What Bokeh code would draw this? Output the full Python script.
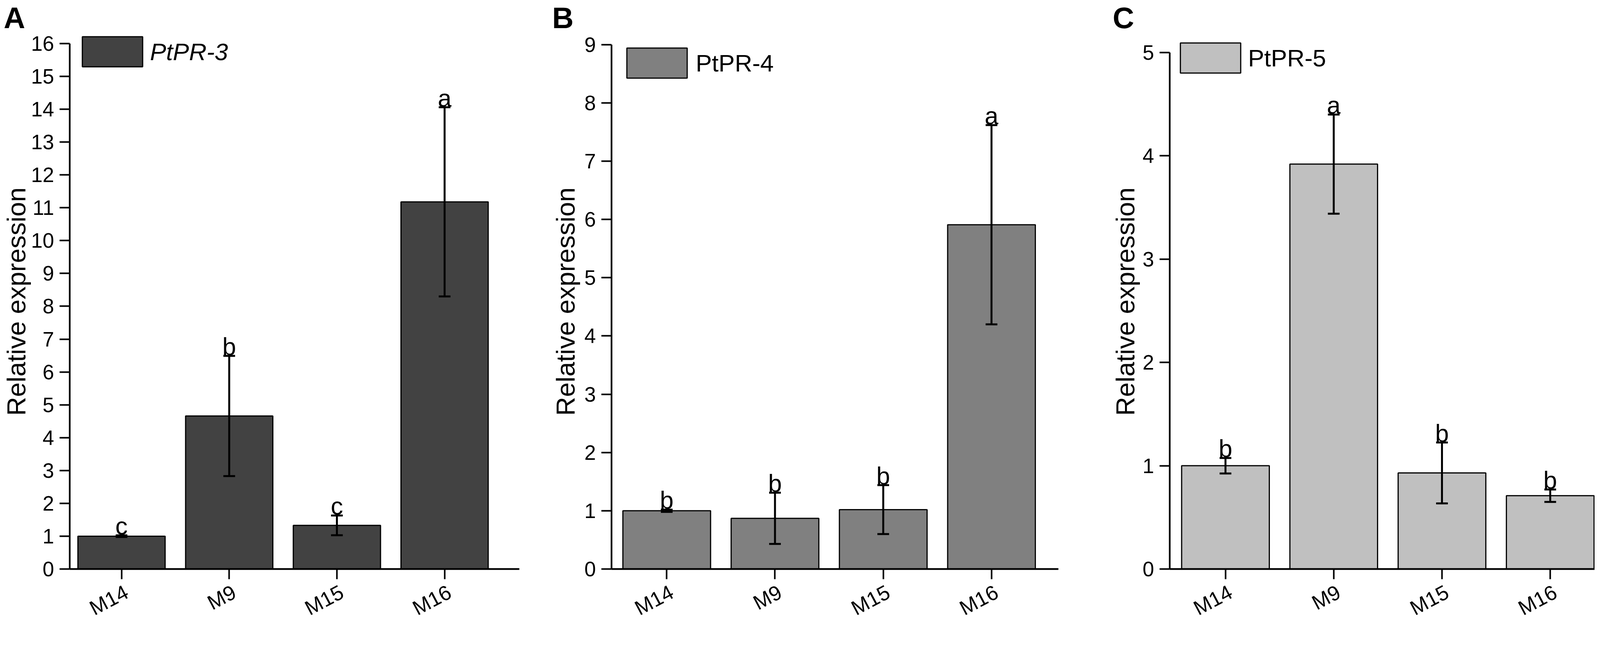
import math
from bokeh.plotting import figure
from bokeh.models import (ColumnDataSource, Whisker, TeeHead, Range1d,
                          FixedTicker, Title, LinearAxis, GlobalInlineStyleSheet)
from bokeh.layouts import row
from bokeh.embed import file_html
from bokeh.resources import INLINE
from bokeh.core.properties import value

# ---------------- data ----------------
categories = ["M14", "M9", "M15", "M16"]
panel_letters = ["A", "B", "C"]
gene_names = ["PtPR-3", "PtPR-4", "PtPR-5"]

pr3_mean = [1.00, 4.66, 1.33, 11.18]
pr3_err = [0.025, 1.83, 0.30, 2.88]
pr3_sig = ["c", "b", "c", "a"]

pr4_mean = [1.00, 0.87, 1.02, 5.91]
pr4_err = [0.02, 0.44, 0.42, 1.71]
pr4_sig = ["b", "b", "b", "a"]

pr5_mean = [1.00, 3.92, 0.93, 0.71]
pr5_err = [0.075, 0.48, 0.295, 0.06]
pr5_sig = ["b", "a", "b", "b"]

y_tick_max = [16, 9, 5]

# ---------------- style ----------------
FONT = "Liberation Sans"
H = 1616
LABEL_SHIFT = 0.047   # rotated category labels sit slightly right of their tick
LABEL_ANGLE = math.radians(28)


def make_panel(letter, gene, means, errs, sigs, color, ymax, yend,
               xstart, xend, width, bl, br, title_offset, als,
               legend_loc, legend_standoff, italic):
    xs = [i + 1 for i in range(len(categories))]
    src = ColumnDataSource(dict(
        x=xs, top=means,
        upper=[m + e for m, e in zip(means, errs)],
        lower=[m - e for m, e in zip(means, errs)],
        sig=sigs,
    ))
    p = figure(width=width, height=H,
               x_range=Range1d(xstart, xend), y_range=Range1d(0, yend),
               output_backend="svg", toolbar_location=None,
               min_border_left=bl, min_border_right=br,
               min_border_top=87, min_border_bottom=H - 87 - 1369,
               background_fill_color="white", border_fill_color="white")
    p.title = Title(text=letter, align="left", offset=title_offset,
                    text_font=FONT, text_font_size="76px",
                    text_font_style="bold", text_color="black", standoff=0)

    p.vbar(x="x", top="top", bottom=0, width=0.81, source=src,
           fill_color=color, line_color="black", line_width=3,
           legend_label=gene)

    head_kw = dict(size=30, line_width=5, line_color="black")
    p.add_layout(Whisker(source=src, base="x", upper="upper", lower="lower",
                         line_width=5, line_color="black",
                         upper_head=TeeHead(**head_kw),
                         lower_head=TeeHead(**head_kw),
                         level="annotation"))

    p.text(x="x", y="upper", text="sig", source=src,
           text_align="center", text_baseline="bottom", y_offset=11,
           text_font=value(FONT), text_font_size="63px",
           text_color="black", level="annotation")

    p.grid.visible = False
    p.outline_line_color = None

    for ax in (p.xaxis[0], p.yaxis[0]):
        ax.axis_line_width = 4.3
        ax.axis_line_color = "black"
        ax.major_tick_line_width = 4
        ax.major_tick_line_color = "black"
        ax.major_tick_out = 26
        ax.major_tick_in = 0
        ax.minor_tick_line_color = None
        ax.major_label_text_color = "black"
        ax.major_label_text_font = FONT

    # x axis: line and ticks at the category centres
    xa = p.xaxis[0]
    xa.ticker = FixedTicker(ticks=xs)
    xa.major_label_overrides = {x: "" for x in xs}
    xa.major_label_text_font_size = "1px"
    xa.major_label_standoff = 0

    # second bottom axis carrying the rotated category names
    label_pos = [x + LABEL_SHIFT for x in xs]
    la = LinearAxis(ticker=FixedTicker(ticks=label_pos),
                    major_label_overrides={x: c for x, c in zip(label_pos, categories)},
                    major_label_orientation=LABEL_ANGLE,
                    major_label_text_font=FONT,
                    major_label_text_font_size="53px",
                    major_label_text_color="black",
                    major_label_standoff=29,
                    axis_line_color=None,
                    major_tick_line_color=None,
                    major_tick_out=0, major_tick_in=0,
                    minor_tick_line_color=None)
    p.add_layout(la, "below")

    ya = p.yaxis[0]
    ya.ticker = FixedTicker(ticks=list(range(ymax + 1)))
    ya.bounds = (0, ymax)
    ya.major_label_text_font_size = "53px"
    ya.major_label_standoff = 14
    ya.axis_label = "Relative expression"
    ya.axis_label_text_font = FONT
    ya.axis_label_text_font_size = "67px"
    ya.axis_label_text_font_style = "normal"
    ya.axis_label_text_color = "black"
    ya.axis_label_standoff = als

    leg = p.legend[0]
    leg.location = legend_loc
    leg.glyph_width = 193
    leg.glyph_height = 96
    leg.padding = 0
    leg.margin = 0
    leg.border_line_color = None
    leg.background_fill_alpha = 0
    leg.label_text_font = FONT
    leg.label_text_font_size = "62px"
    leg.label_text_color = "black"
    leg.label_standoff = legend_standoff
    if italic:
        leg.label_text_font_style = "italic"
    return p


pA = make_panel(panel_letters[0], gene_names[0], pr3_mean, pr3_err, pr3_sig,
                "#424242", y_tick_max[0], 16.285, 0.519, 4.694,
                1371, 172, 42, -169, -2, (13, 1276), 0, True)
pB = make_panel(panel_letters[1], gene_names[1], pr4_mean, pr4_err, pr4_sig,
                "#808080", y_tick_max[1], 9.18, 0.490, 4.618,
                1371, 194, 33, -152, 8, (20, 1247), 3, False)
pC = make_panel(panel_letters[2], gene_names[2], pr5_mean, pr5_err, pr5_sig,
                "#c0c0c0", y_tick_max[2], 5.178, 0.485, 4.411,
                1340, 252, 0, -146, 4, (8, 1260), 0, False)

no_scroll = GlobalInlineStyleSheet(css="html, body { overflow: hidden; }")
layout = row(pA, pB, pC, stylesheets=[no_scroll])
open("out.html", "w").write(file_html(layout, INLINE))
